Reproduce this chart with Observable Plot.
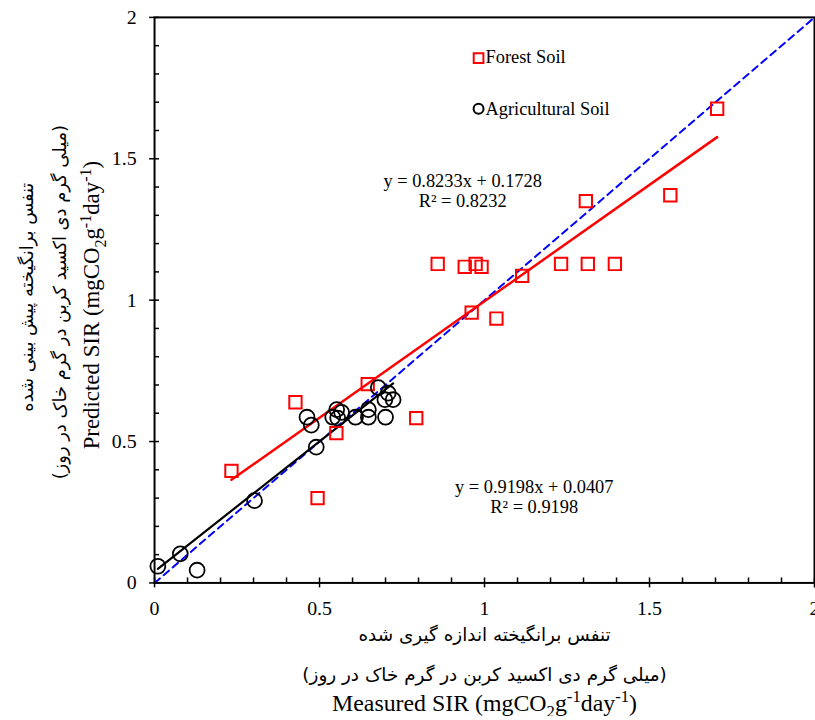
<!DOCTYPE html>
<html><head><meta charset="utf-8">
<script src="https://cdn.jsdelivr.net/npm/d3@7"></script>
<script src="https://cdn.jsdelivr.net/npm/@observablehq/plot@0.6"></script>
<style>html,body{margin:0;padding:0;background:#fff;overflow:hidden;}</style>
</head><body><div id="chart"></div>
<script>
// Forest soil (red squares): measured vs predicted SIR
const forestX = [0.233, 0.427, 0.494, 0.551, 0.646, 0.793, 0.858, 0.940, 0.973, 0.991, 0.961, 1.036, 1.114, 1.232, 1.313, 1.307, 1.395, 1.563, 1.705];
const forestY = [0.396, 0.639, 0.300, 0.530, 0.703, 0.583, 1.128, 1.118, 1.128, 1.118, 0.956, 0.935, 1.086, 1.128, 1.128, 1.350, 1.128, 1.371, 1.677];
// Agricultural soil (black circles)
const agriX = [0.010, 0.078, 0.129, 0.303, 0.462, 0.475, 0.490, 0.540, 0.552, 0.555, 0.567, 0.609, 0.648, 0.648, 0.678, 0.700, 0.698, 0.708, 0.723];
const agriY = [0.059, 0.103, 0.045, 0.291, 0.586, 0.558, 0.480, 0.586, 0.613, 0.583, 0.603, 0.586, 0.586, 0.613, 0.691, 0.586, 0.648, 0.671, 0.648];
// Fitted trend lines
const forestSlope = 0.8233, forestIntercept = 0.1728, forestR2 = "0.8232";
const agriSlope = 0.9198, agriIntercept = "0.0407", agriR2 = "0.9198";
// 1:1 reference line ends
const refLine = [0, 2];
// Axis ticks
const majorTicks = [0, 0.5, 1, 1.5, 2];
const majorTickLabels = ["0", "0.5", "1", "1.5", "2"];
const minorTicks = [0.1,0.2,0.3,0.4,0.6,0.7,0.8,0.9,1.1,1.2,1.3,1.4,1.6,1.7,1.8,1.9];
// Legend
const legendLabels = ["Forest Soil", "Agricultural Soil"];
// Axis titles
const xTitleFa1 = "تنفس برانگیخته اندازه گیری شده";
const xTitleFa2 = "(میلی گرم دی اکسید کربن در گرم خاک در روز)";
const xTitleEn = "Measured SIR (mgCO2g-1day-1)";
const yTitleFa1 = "تنفس برانگیخته پیش بینی شده";
const yTitleFa2 = "(میلی گرم دی اکسید کربن در گرم خاک در روز)";
const yTitleEn = "Predicted SIR (mgCO2g-1day-1)";

const forest = forestX.map((x, i) => ({x, y: forestY[i]}));
const agri = agriX.map((x, i) => ({x, y: agriY[i]}));
const forestFit = d3.extent(forestX).map(x => ({x, y: forestSlope * x + forestIntercept}));
const agriFit = d3.extent(agriX).map(x => ({x, y: agriSlope * x + +agriIntercept}));
const fmt = d => majorTickLabels[majorTicks.indexOf(d)];

const SERIF = "Liberation Serif, Times New Roman, serif";
const FA = "DejaVu Sans, sans-serif";
const EN_SIZE = 24;

const plot = Plot.plot({
  width: 820, height: 720,
  marginLeft: 155, marginRight: 1, marginTop: 17, marginBottom: 134,
  style: {fontFamily: SERIF, background: "#fff", overflow: "visible"},
  x: {domain: [0, 2]},
  y: {domain: [0, 2]},
  marks: [
    // axes: major ticks crossing, minor ticks inward
    Plot.axisX({ticks: majorTicks, tickSize: 5, tickPadding: 13, tickFormat: fmt, fontSize: 20, fill: "#000", label: null, strokeWidth: 1.5}),
    Plot.axisX({ticks: majorTicks, tickSize: -5, tickFormat: () => "", label: null, strokeWidth: 1.5}),
    Plot.axisX({ticks: minorTicks, tickSize: -5, tickFormat: () => "", label: null, strokeWidth: 1.5}),
    Plot.axisY({ticks: majorTicks, tickSize: 5, tickPadding: 13, tickFormat: fmt, fontSize: 20, fill: "#000", label: null, strokeWidth: 1.5}),
    Plot.axisY({ticks: majorTicks, tickSize: -5, tickFormat: () => "", label: null, strokeWidth: 1.5}),
    Plot.axisY({ticks: minorTicks, tickSize: -5, tickFormat: () => "", label: null, strokeWidth: 1.5}),
    // 1:1 line
    Plot.line(refLine, {x: d => d, y: d => d, stroke: "#0000ff", strokeWidth: 2, strokeDasharray: "7,5"}),
    // trend lines
    Plot.line(forestFit, {x: "x", y: "y", stroke: "#ff0000", strokeWidth: 2.5}),
    Plot.line(agriFit, {x: "x", y: "y", stroke: "#000", strokeWidth: 2.2}),
    // points
    Plot.dot(forest, {x: "x", y: "y", symbol: "square", r: 7, stroke: "#ff0000", strokeWidth: 2, fill: "none"}),
    Plot.dot(agri, {x: "x", y: "y", symbol: "circle", r: 7.5, stroke: "#000", strokeWidth: 1.8, fill: "none"}),
    Plot.frame({stroke: "#000", strokeWidth: 2}),
    // legend
    Plot.dot([legendLabels[0]], {frameAnchor: "top-left", dx: 326, dy: 41, symbol: "square", r: 5.5, stroke: "#ff0000", strokeWidth: 2, fill: "none"}),
    Plot.dot([legendLabels[1]], {frameAnchor: "top-left", dx: 326, dy: 92, symbol: "circle", r: 5, stroke: "#000", strokeWidth: 2, fill: "none"}),
    Plot.text([legendLabels[0]], {text: d => d, frameAnchor: "top-left", dx: 333, dy: 40, textAnchor: "start", lineAnchor: "middle", fontSize: 18.5, fill: "#000"}),
    Plot.text([legendLabels[1]], {text: d => d, frameAnchor: "top-left", dx: 333, dy: 92, textAnchor: "start", lineAnchor: "middle", fontSize: 18.5, fill: "#000"}),
    // equations
    Plot.text([`y = ${forestSlope}x + ${forestIntercept}`], {text: d => d, frameAnchor: "top-left", dx: 310, dy: 165, textAnchor: "middle", lineAnchor: "middle", fontSize: 18.5, fill: "#000"}),
    Plot.text([`R² = ${forestR2}`], {text: d => d, frameAnchor: "top-left", dx: 310, dy: 185, textAnchor: "middle", lineAnchor: "middle", fontSize: 18.5, fill: "#000"}),
    Plot.text([`y = ${agriSlope}x + ${agriIntercept}`], {text: d => d, frameAnchor: "top-left", dx: 382, dy: 473, textAnchor: "middle", lineAnchor: "middle", fontSize: 18.5, fill: "#000"}),
    Plot.text([`R² = ${agriR2}`], {text: d => d, frameAnchor: "top-left", dx: 382, dy: 493, textAnchor: "middle", lineAnchor: "middle", fontSize: 18.5, fill: "#000"}),
    // x-axis titles
    Plot.text([xTitleFa1], {text: d => d, frameAnchor: "bottom", dy: 53, textAnchor: "middle", lineAnchor: "middle", fontFamily: FA, fontSize: 18.5, fill: "#000"}),
    Plot.text([xTitleFa2], {text: d => d, frameAnchor: "bottom", dy: 93, textAnchor: "middle", lineAnchor: "middle", fontFamily: FA, fontSize: 18.5, fill: "#000"}),
    Plot.text([xTitleEn], {text: d => d, frameAnchor: "bottom", dy: 121, textAnchor: "middle", lineAnchor: "middle", fontSize: EN_SIZE, fill: "#000"}),
    // y-axis titles
    Plot.text([yTitleFa1], {text: d => d, frameAnchor: "left", dx: -128, dy: -3, rotate: -90, textAnchor: "middle", lineAnchor: "middle", fontFamily: FA, fontSize: 18, fill: "#000"}),
    Plot.text([yTitleFa2], {text: d => d, frameAnchor: "left", dx: -95, dy: 2, rotate: -90, textAnchor: "middle", lineAnchor: "middle", fontFamily: FA, fontSize: 18, fill: "#000"}),
    Plot.text([yTitleEn], {text: d => d, frameAnchor: "left", dx: -63, dy: 5, rotate: -90, textAnchor: "middle", lineAnchor: "middle", fontSize: 23, fill: "#000"})
  ]
});

// Rich text (subscript / superscript) for the English axis titles
function richify(svg, plain, prefix, size) {
  svg.querySelectorAll("text").forEach(t => {
    if (t.textContent !== plain) return;
    t.textContent = "";
    const parts = [[prefix + " (mgCO", 0], ["2", 1], ["g", 0], ["-1", -1], ["day", 0], ["-1", -1], [")", 0]];
    let shift = 0;
    parts.forEach(([s, k]) => {
      const ts = document.createElementNS("http://www.w3.org/2000/svg", "tspan");
      const target = k === 1 ? size * 0.28 : k === -1 ? -size * 0.35 : 0;
      ts.setAttribute("dy", target - shift);
      shift = target;
      if (k !== 0) ts.setAttribute("font-size", size * 0.7);
      ts.textContent = s;
      t.appendChild(ts);
    });
  });
}
richify(plot, xTitleEn, "Measured SIR", EN_SIZE);
richify(plot, yTitleEn, "Predicted SIR", 23);
document.getElementById("chart").appendChild(plot);
</script>
</body></html>
